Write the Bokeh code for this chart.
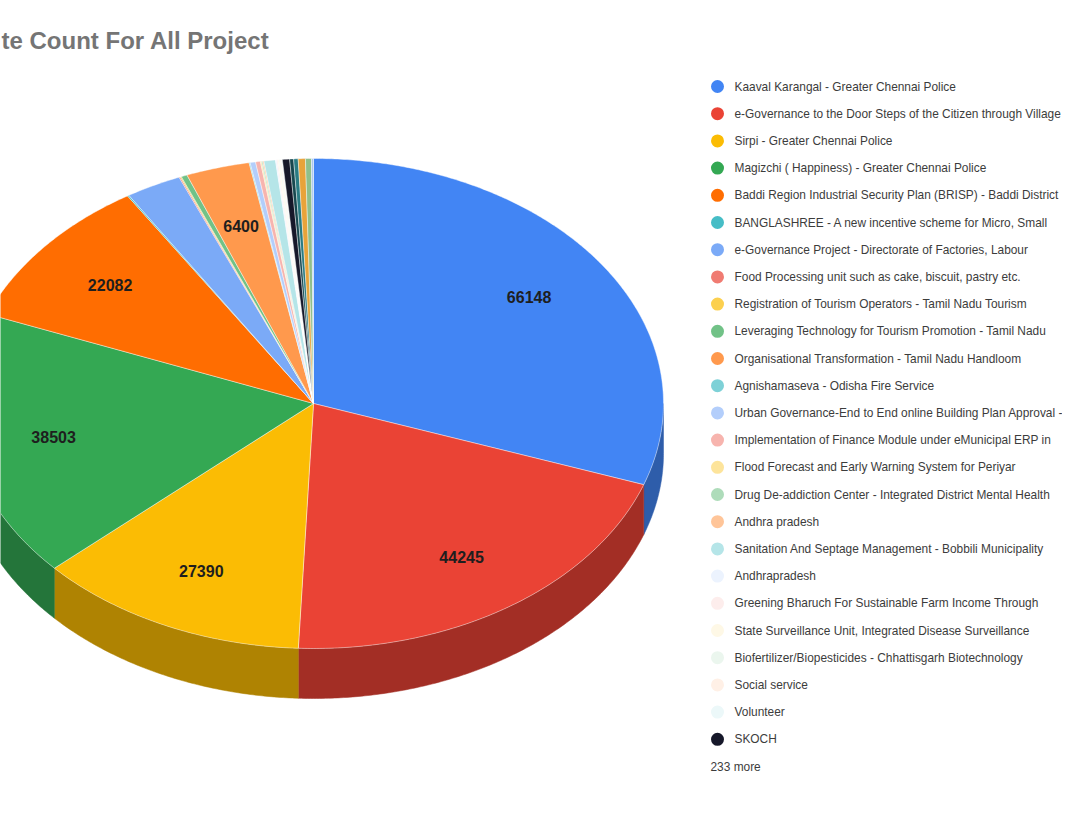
import math
from bokeh.plotting import figure
from bokeh.models import Range1d
from bokeh.core.properties import value
from bokeh.embed import file_html
from bokeh.resources import INLINE

# ---------------- data ----------------
title_text = "te Count For All Project"   # visible part of the (cropped) title

projects = [
    "Kaaval Karangal - Greater Chennai Police",
    "e-Governance to the Door Steps of the Citizen through Village",
    "Sirpi - Greater Chennai Police",
    "Magizchi ( Happiness) - Greater Chennai Police",
    "Baddi Region Industrial Security Plan (BRISP) - Baddi District",
    "BANGLASHREE - A new incentive scheme for Micro, Small",
    "e-Governance Project - Directorate of Factories, Labour",
    "Food Processing unit such as cake, biscuit, pastry etc.",
    "Registration of Tourism Operators - Tamil Nadu Tourism",
    "Leveraging Technology for Tourism Promotion - Tamil Nadu",
    "Organisational Transformation - Tamil Nadu Handloom",
    "Agnishamaseva - Odisha Fire Service",
    "Urban Governance-End to End online Building Plan Approval -",
    "Implementation of Finance Module under eMunicipal ERP in",
    "Flood Forecast and Early Warning System for Periyar",
    "Drug De-addiction Center - Integrated District Mental Health",
    "Andhra pradesh",
    "Sanitation And Septage Management - Bobbili Municipality",
    "Andhrapradesh",
    "Greening Bharuch For Sustainable Farm Income Through",
    "State Surveillance Unit, Integrated Disease Surveillance",
    "Biofertilizer/Biopesticides - Chhattisgarh Biotechnology",
    "Social service",
    "Volunteer",
    "SKOCH",
]
counts = [66148, 44245, 27390, 38503, 22082, 150, 5600, 120, 120, 600,
          6400, 100, 550, 480, 120, 120, 120, 1150, 120, 120,
          120, 110, 110, 110, 720]
colors = ["#4285F4", "#EA4335", "#FBBC04", "#34A853", "#FF6D01", "#46BDC6",
          "#7BAAF7", "#F07B72", "#FCD04F", "#71C287", "#FF994D", "#7ED1D7",
          "#B3CEFB", "#F7B4AE", "#FDE49B", "#AEDCBA", "#FFC599", "#B5E5E8",
          "#ECF3FE", "#FDEDEC", "#FEF8E6", "#EBF6EE", "#FFF0E6", "#ECF8F9",
          "#16182a"]
more_counts = [400, 450, 720, 600, 200]
more_colors = ["#17474f", "#2a7b83", "#e8a33a", "#8fbf8a", "#a9c7f0"]
more_label = "233 more"

# ---------------- geometry (layout) ----------------
CX, CY, RX, RY, DEPTH = 313.0, 403.0, 350.0, 245.0, 50.0
LABEL_FRAC = 0.755

all_counts = counts + more_counts
all_colors = colors + more_colors
total = float(sum(all_counts))


def darker(hex_color, f=0.7):
    h = hex_color.lstrip("#")
    r, g, b = int(h[0:2], 16), int(h[2:4], 16), int(h[4:6], 16)
    return "#%02x%02x%02x" % (int(r * f), int(g * f), int(b * f))


def rim(theta_deg, dy=0.0):
    t = math.radians(theta_deg)
    return CX + RX * math.sin(t), CY - RY * math.cos(t) + dy


def arc(a, b, dy=0.0):
    n = max(2, int(abs(b - a) / 0.5) + 2)
    return [rim(a + (b - a) * i / (n - 1), dy) for i in range(n)]


top_xs, top_ys, side_xs, side_ys, side_colors = [], [], [], [], []
lab_x, lab_y, lab_t = [], [], []
start = 0.0
for c, col in zip(all_counts, all_colors):
    sweep = c / total * 360.0
    a, b = start, start + sweep
    pts = [(CX, CY)] + arc(a, b)
    top_xs.append([q[0] for q in pts])
    top_ys.append([q[1] for q in pts])
    lo, hi = max(a, 90.0), min(b, 270.0)
    if hi > lo:
        up = arc(lo, hi)
        dn = arc(hi, lo, DEPTH)
        side_xs.append([q[0] for q in up + dn])
        side_ys.append([q[1] for q in up + dn])
        side_colors.append(darker(col))
    if sweep > 10.0:
        mid = math.radians((a + b) / 2)
        lab_x.append(CX + LABEL_FRAC * RX * math.sin(mid))
        lab_y.append(CY - LABEL_FRAC * RY * math.cos(mid))
        lab_t.append(str(c))
    start = b

W, H = 1062, 798
p = figure(width=W, height=H, output_backend="svg", toolbar_location=None,
           x_range=Range1d(0, W), y_range=Range1d(H, 0),
           min_border=0, outline_line_color=None)
p.axis.visible = False
p.grid.visible = False
p.background_fill_color = "white"
p.border_fill_color = "white"

p.patches(xs=side_xs, ys=side_ys, fill_color=side_colors, line_color=side_colors,
          line_width=0.5)
p.patches(xs=top_xs, ys=top_ys, fill_color=all_colors, line_color="white",
          line_width=0.6, line_alpha=0.7)

p.text(x=lab_x, y=lab_y, text=lab_t, text_align="center", text_baseline="middle",
       text_font=value("Liberation Sans"), text_font_style="bold",
       text_font_size="16px", text_color="#1e1e1e")

p.text(x=[1], y=[40], text=[title_text], text_align="left", text_baseline="middle",
       text_font=value("Liberation Sans"), text_font_style="bold",
       text_font_size="24px", text_color="#757575")

# legend
LX, LY0, LDY = 717.0, 86.0, 27.2
ly = [LY0 + i * LDY for i in range(len(projects))]
p.scatter(x=[LX] * len(projects), y=ly, size=13, fill_color=colors, line_color=None)
p.text(x=[LX + 17] * len(projects), y=ly, text=projects, text_baseline="middle",
       text_font=value("Liberation Sans"), text_font_size="11.9px", text_color="#3c3c3c")
p.text(x=[710], y=[LY0 + len(projects) * LDY], text=[more_label], text_baseline="middle",
       text_font=value("Liberation Sans"), text_font_size="11.9px", text_color="#3c3c3c")

open("out.html", "w").write(file_html(p, INLINE))
